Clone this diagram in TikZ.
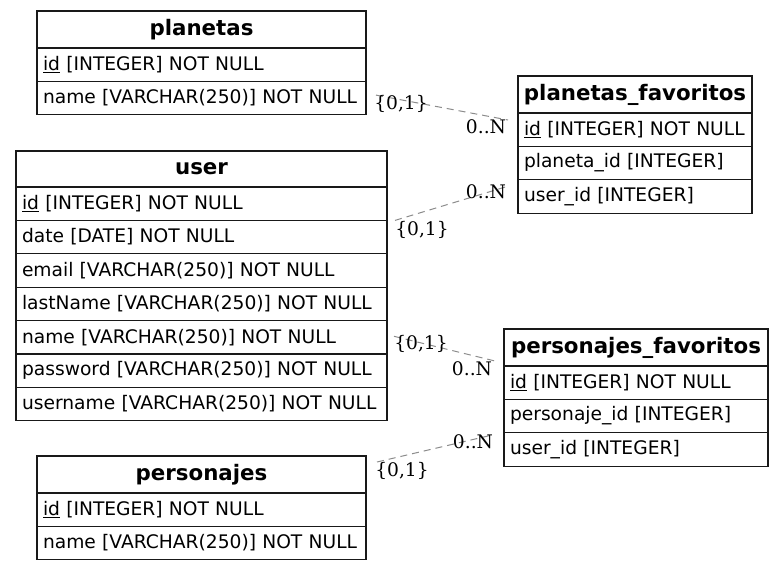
\documentclass[tikz,border=0pt]{standalone}
\usepackage{fontspec}
\setmainfont{DejaVu Sans}
\newfontfamily\cardfont{DejaVu Serif}
\usetikzlibrary{calc}
\newcommand\pkey[1]{\underline{#1}}
\begin{document}
\begin{tikzpicture}[x=1pt,y=-1pt,
  tbl/.style={draw=black!90, line width=1.2pt, outer sep=0pt, inner ysep=0pt, anchor=north west},
  ttl/.style={tbl, minimum height=37pt, minimum width=#1, font=\fontsize{21.33}{24}\selectfont\bfseries},
  fld/.style={tbl, minimum height=33.4pt, text width=#1, inner xsep=6pt, align=left, font=\fontsize{18.67}{22}\selectfont},
  rel/.style={draw=gray!90, line width=1pt, dash pattern=on 7pt off 5pt},
  card/.style={font=\cardfont\fontsize{18.67}{22}\selectfont, inner sep=0pt}
]
\useasboundingbox[fill=white] (0,0) rectangle (784,571);

% planetas (width 329)
\node[ttl=329pt] (planetas) at (37,11) {planetas};
\node[fld=317pt] (planetas-id) at (planetas.south west) {\pkey{id} [INTEGER] NOT NULL};
\node[fld=317pt] (planetas-name) at (planetas-id.south west) {name [VARCHAR(250)] NOT NULL};

% user (width 371)
\node[ttl=371pt, minimum height=36pt] (user) at (16,151) {user};
\node[fld=359pt] (user-id) at (user.south west) {\pkey{id} [INTEGER] NOT NULL};
\node[fld=359pt] (user-date) at (user-id.south west) {date [DATE] NOT NULL};
\node[fld=359pt] (user-email) at (user-date.south west) {email [VARCHAR(250)] NOT NULL};
\node[fld=359pt] (user-lastname) at (user-email.south west) {lastName [VARCHAR(250)] NOT NULL};
\node[fld=359pt] (user-name) at (user-lastname.south west) {name [VARCHAR(250)] NOT NULL};
\node[fld=359pt] (user-password) at (user-name.south west) {password [VARCHAR(250)] NOT NULL};
\node[fld=359pt] (user-username) at (user-password.south west) {username [VARCHAR(250)] NOT NULL};

% personajes (width 329)
\node[ttl=329pt] (personajes) at (37,456) {personajes};
\node[fld=317pt] (personajes-id) at (personajes.south west) {\pkey{id} [INTEGER] NOT NULL};
\node[fld=317pt] (personajes-name) at (personajes-id.south west) {name [VARCHAR(250)] NOT NULL};

% planetas_favoritos (width 234)
\node[ttl=234pt] (pf) at (518,76) {planetas\_favoritos};
\node[fld=222pt] (pf-id) at (pf.south west) {\pkey{id} [INTEGER] NOT NULL};
\node[fld=222pt] (pf-planeta) at (pf-id.south west) {planeta\_id [INTEGER]};
\node[fld=222pt] (pf-user) at (pf-planeta.south west) {user\_id [INTEGER]};

% personajes_favoritos (width 264)
\node[ttl=264pt] (psf) at (504,329) {personajes\_favoritos};
\node[fld=252pt] (psf-id) at (psf.south west) {\pkey{id} [INTEGER] NOT NULL};
\node[fld=252pt] (psf-personaje) at (psf-id.south west) {personaje\_id [INTEGER]};
\node[fld=252pt] (psf-user) at (psf-personaje.south west) {user\_id [INTEGER]};

% relationships
\draw[rel] ($(planetas-name.east)+(10,-3)$) -- ($(pf-id.north west)+(-10,7)$);
\draw[rel] ($(user-date.north east)+(8,0)$) -- ($(pf-user.west)+(-11,-10)$);
\draw[rel] ($(user-name.east)+(7,-1)$) -- ($(psf-id.north west)+(-9,-5)$);
\draw[rel] ($(personajes.north east)+(11,6)$) -- ($(psf-user.north west)+(-11,2)$);

% cardinalities
\node[card] (c1a) at (401,104) {\{0,1\}};
\node[card] (c1b) at (486,127) {0..N};
\node[card] (c2a) at (486,192) {0..N};
\node[card] (c2b) at (422,230) {\{0,1\}};
\node[card] (c3a) at (421,344) {\{0,1\}};
\node[card] (c3b) at (472,369) {0..N};
\node[card] (c4a) at (473,442) {0..N};
\node[card] (c4b) at (402,471) {\{0,1\}};
\end{tikzpicture}
\end{document}
